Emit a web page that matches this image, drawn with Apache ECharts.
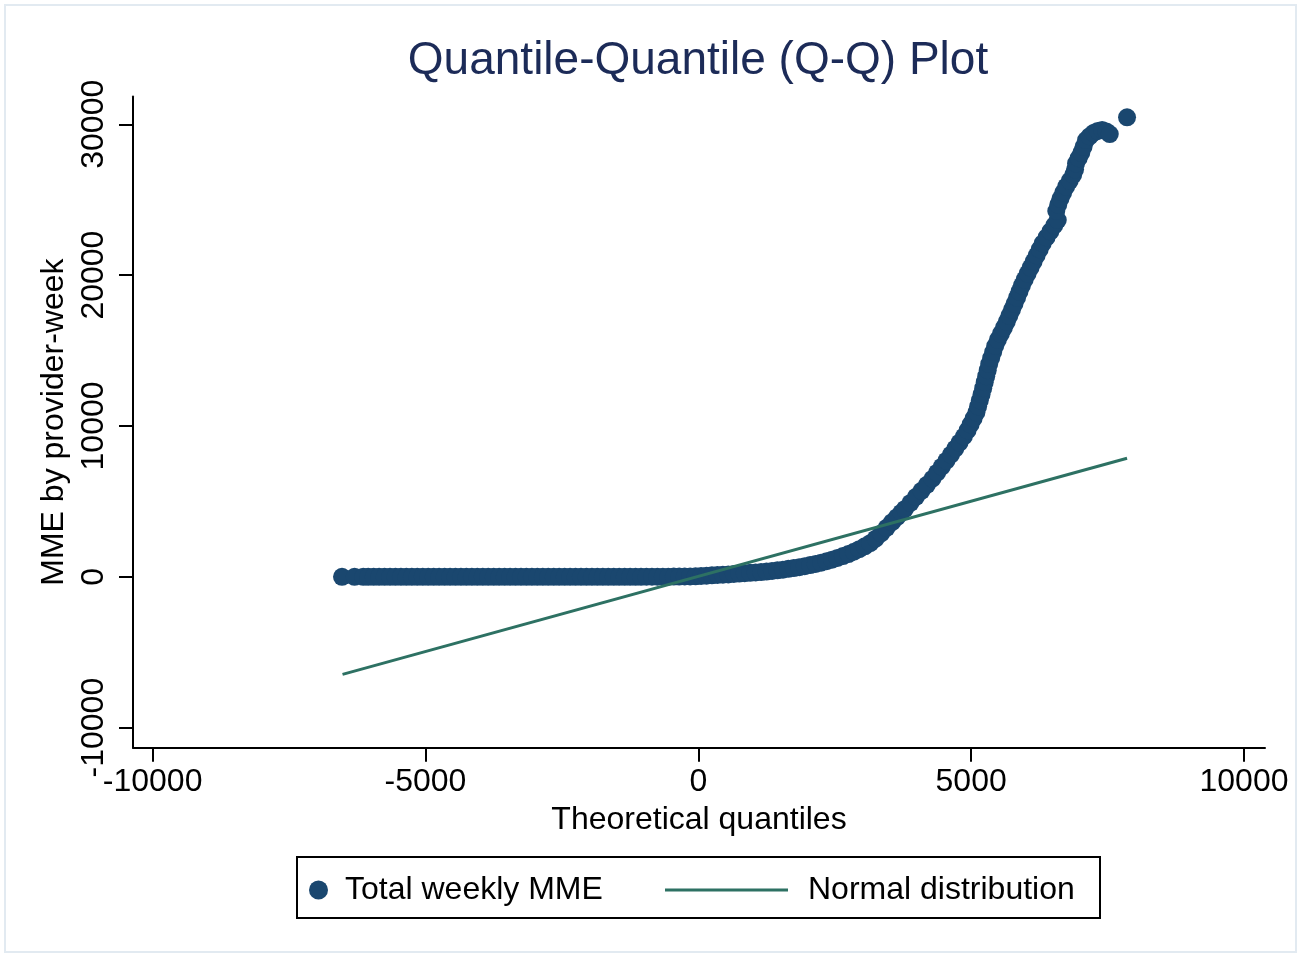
<!DOCTYPE html>
<html>
<head>
<meta charset="utf-8">
<script src="https://cdn.jsdelivr.net/npm/echarts@6/dist/echarts.min.js"></script>
<style>
html,body{margin:0;padding:0;background:#fff;}
#chart{width:1301px;height:957px;}
</style>
</head>
<body>
<div id="chart"></div>
<script>
// ---- Data ----
const titleText = 'Quantile-Quantile (Q-Q) Plot';
const xAxisName = 'Theoretical quantiles';
const yAxisName = 'MME by provider-week';
const scatterName = 'Total weekly MME';
const lineName = 'Normal distribution';

const xTicks = [-10000, -5000, 0, 5000, 10000];
const yTicks = [-10000, 0, 10000, 20000, 30000];

// Theoretical quantiles (x) of the observed points
const qqTheoretical = [
  -6530, -6300, -6140, -6050, -5950, -5850, -5750, -5650, -5550, -5450, -5350, -5250, -5150,
  -5050, -4950, -4850, -4750, -4650, -4550, -4450, -4350, -4250, -4150, -4050, -3950, -3850,
  -3750, -3650, -3550, -3450, -3350, -3250, -3150, -3050, -2950, -2850, -2750, -2650, -2550,
  -2450, -2350, -2250, -2150, -2050, -1950, -1850, -1750, -1650, -1550, -1450, -1350, -1250,
  -1150, -1050, -950, -850, -750, -650, -550, -450, -350, -250,
  -150, -50, 50, 150, 250, 350, 450, 550, 650, 750, 850, 950, 1050, 1150, 1250, 1350, 1450,
  1550, 1650, 1750, 1850, 1950, 2050, 2150, 2250, 2350, 2450, 2550, 2650, 2750, 2850, 2950,
  3050, 3150, 3250, 3350, 3450, 3550, 3640, 3720,
  3787, 3888, 3988, 4089, 4189, 4290, 4376, 4462, 4547, 4630, 4709, 4787, 4866, 4934, 4990,
  5045, 5097, 5128, 5159, 5191, 5221, 5249, 5276, 5304, 5331, 5367, 5404, 5441, 5489, 5544,
  5599, 5652, 5699, 5747, 5794, 5841, 5885, 5929, 5980, 6035, 6090, 6145, 6200, 6256, 6311,
  6382, 6453, 6524, 6587,
  6560, 6595, 6635, 6685, 6740, 6806, 6870, 6904, 6922, 6970, 7018, 7059, 7106,
  7170, 7240, 7320, 7400, 7480, 7540, 7857
];
// Observed total weekly MME (y) of the same points
const qqObserved = [
  0, 0, 0, 0, 0, 0, 0, 0, 0, 0, 0, 0, 0,
  0, 0, 0, 0, 0, 0, 0, 0, 0, 0, 0, 0, 0,
  0, 0, 0, 0, 0, 0, 0, 0, 0, 0, 0, 0, 0,
  0, 0, 0, 0, 0, 0, 0, 0, 0, 0, 0, 0, 0,
  0, 0, 5, 5, 5, 10, 10, 15, 15, 20,
  25, 35, 55, 75, 100, 120, 140, 160, 185, 210, 235, 260, 285, 315, 350, 390, 430,
  475, 525, 580, 640, 705, 775, 850, 935, 1030, 1135, 1250, 1375, 1510, 1660, 1830,
  2020, 2230, 2530, 2870, 3250, 3620, 3950, 4250,
  4500, 4900, 5300, 5700, 6100, 6500, 6900, 7300, 7700, 8100, 8500, 8900, 9300, 9700, 10100,
  10500, 10900, 11300, 11700, 12100, 12500, 12900, 13300, 13700, 14100, 14500, 14900, 15300, 15700, 16100,
  16500, 16900, 17300, 17700, 18100, 18500, 18900, 19300, 19700, 20100, 20500, 20900, 21300, 21700, 22100,
  22500, 22900, 23300, 23650,
  24250, 24650, 25050, 25450, 25860, 26250, 26650, 27000, 27400, 27750, 28100, 28500, 28950,
  29200, 29420, 29560, 29620, 29520, 29350, 30460
];

// Reference normal-distribution line (end points)
const normalX = [-6520, 7857];
const normalY = [-6470, 7855];

// ---- Build chart ----
const scatterData = qqTheoretical.map((x, i) => [x, qqObserved[i]]);
const lineData = normalX.map((x, i) => [x, normalY[i]]);

const FONT = 'Liberation Sans, Arial, sans-serif';
const NAVY = '#1a476f';
const TEAL = '#2d7163';

const chart = echarts.init(document.getElementById('chart'), null, {renderer: 'canvas'});
chart.setOption({
  backgroundColor: '#ffffff',
  animation: false,
  title: {
    text: titleText,
    left: 693,
    top: 33,
    textAlign: 'center',
    textStyle: {fontFamily: FONT, fontSize: 46, fontWeight: 'normal', color: '#1c2b58'}
  },
  grid: {left: 133, right: 36, top: 96.5, bottom: 209.3, containLabel: false},
  xAxis: {
    type: 'value',
    min: -10360,
    max: 10385,
    name: xAxisName,
    nameLocation: 'middle',
    nameGap: 56,
    nameTextStyle: {fontFamily: FONT, fontSize: 32, color: '#000'},
    axisLine: {onZero: false, lineStyle: {color: '#000', width: 2}},
    axisTick: {show: true, length: 14, lineStyle: {color: '#000', width: 2}, customValues: xTicks},
    axisLabel: {fontFamily: FONT, fontSize: 32, color: '#000', margin: 18, customValues: xTicks,
      formatter: v => String(v)},
    splitLine: {show: false}
  },
  yAxis: {
    type: 'value',
    min: -11330,
    max: 31840,
    name: yAxisName,
    nameLocation: 'middle',
    nameRotate: 90,
    nameGap: 57,
    nameTextStyle: {fontFamily: FONT, fontSize: 32, color: '#000'},
    axisLine: {onZero: false, lineStyle: {color: '#000', width: 2}},
    axisTick: {show: true, length: 14, lineStyle: {color: '#000', width: 2}, customValues: yTicks},
    axisLabel: {fontFamily: FONT, fontSize: 32, color: '#000', margin: 23, rotate: 90, customValues: yTicks,
      formatter: v => String(v)},
    splitLine: {show: false}
  },
  legend: [
    {
      data: [{name: scatterName, icon: 'circle'}],
      left: 304,
      top: 869,
      itemWidth: 19,
      itemHeight: 19,
      padding: 5,
      textStyle: {fontFamily: FONT, fontSize: 32, color: '#000', padding: [0, 0, 0, 12]},
      selectedMode: false
    },
    {
      data: [{name: lineName, icon: 'rect'}],
      left: 660,
      top: 869,
      itemWidth: 123,
      itemHeight: 3,
      padding: 5,
      textStyle: {fontFamily: FONT, fontSize: 32, color: '#000', padding: [0, 0, 0, 15]},
      selectedMode: false
    }
  ],
  graphic: [
    {
      type: 'rect', silent: true, z: -1,
      shape: {x: 5, y: 5, width: 1291, height: 947},
      style: {fill: 'none', stroke: '#e2eaf1', lineWidth: 2}
    },
    {
      type: 'rect', silent: true,
      shape: {x: 297, y: 857, width: 803, height: 61},
      style: {fill: 'none', stroke: '#000', lineWidth: 2}
    }
  ],
  series: [
    {
      name: scatterName,
      type: 'scatter',
      data: scatterData,
      symbol: 'circle',
      symbolSize: 18,
      itemStyle: {color: NAVY, opacity: 1},
      z: 2
    },
    {
      name: lineName,
      type: 'line',
      data: lineData,
      showSymbol: false,
      symbol: 'none',
      lineStyle: {color: TEAL, width: 3},
      itemStyle: {color: TEAL},
      z: 3
    }
  ]
});
</script>
</body>
</html>
